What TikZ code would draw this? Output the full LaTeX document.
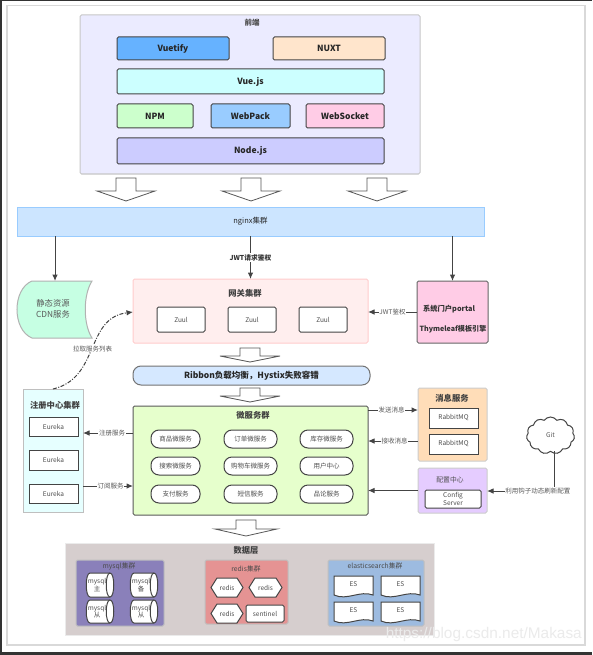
\documentclass[tikz,border=0pt]{standalone}
\usepackage{fontspec}
\setmainfont{Noto Sans CJK SC}
\newfontfamily\wmfont{Liberation Sans}
\usetikzlibrary{arrows.meta,shapes.symbols}
\definecolor{ink}{HTML}{444444}
\definecolor{cVuetify}{HTML}{66B2FF}
\definecolor{cNuxt}{HTML}{FFE5CC}
\definecolor{cVue}{HTML}{CCFFFF}
\definecolor{cNpm}{HTML}{CCFFCC}
\definecolor{cPack}{HTML}{99CCFF}
\definecolor{cSock}{HTML}{FFCCE6}
\definecolor{cNode}{HTML}{CCCCFF}
\definecolor{cNginx}{HTML}{CCE5FF}
\definecolor{cCdn}{HTML}{C6FFE3}
\definecolor{cGwLine}{HTML}{FFCCCC}
\definecolor{cGw}{HTML}{FFEEEE}
\definecolor{cRibbon}{HTML}{D5E8FF}
\definecolor{cMicro}{HTML}{E6FFCC}
\definecolor{cReg}{HTML}{E6FFFF}
\definecolor{cMq}{HTML}{FFDDB8}
\definecolor{cCfg}{HTML}{E5CCFF}
\definecolor{cData}{HTML}{D6CECE}
\definecolor{cMysql}{HTML}{8A80BA}
\definecolor{cRedis}{HTML}{E59393}
\definecolor{cEs}{HTML}{9DBBE0}
\tikzset{
  base/.style={draw=ink,line width=1pt,rounded corners=1.5pt,inner sep=0pt,align=center,text=black!85},
  panel/.style={base,rounded corners=1.5pt},
  stack/.style={base,font=\bfseries\fontsize{8.5}{10}\selectfont},
  small/.style={base,fill=white,font=\fontsize{6.5}{7.5}\selectfont,text=black!70},
  pill/.style={small,rounded corners=8pt},
  title/.style={font=\bfseries\fontsize{8.3}{10}\selectfont,text=black!75,inner sep=0pt},
  subtitle/.style={font=\fontsize{6.8}{8}\selectfont,text=black!70,inner sep=0pt},
  conn/.style={draw=ink,line width=1pt,-{Latex[length=6.5pt,width=5.5pt]}},
  plain/.style={draw=ink,line width=1pt},
  lab/.style={font=\fontsize{6.5}{7.5}\selectfont,text=black!65,fill=white,inner sep=.8pt},
  blockarrow/.style={draw=ink!90,line width=.8pt,fill=white},
  shapeline/.style={draw=ink,line width=1pt,fill=white},
}
\newcommand{\bx}[7]{%
  \pgfmathsetmacro\cxv{(#3+#5)/2}\pgfmathsetmacro\cyv{(#4+#6)/2}%
  \pgfmathsetmacro\wv{#5-#3}\pgfmathsetmacro\hv{#6-#4}%
  \node[#2,minimum width=\wv pt,minimum height=\hv pt,outer sep=0pt] (#1) at (\cxv,\cyv) {#7};}
\newcommand{\barrow}[6]{% cx, y1, yhead, y2, halfshaft, halfhead
  \pgfmathsetmacro\aa{#1-#5}\pgfmathsetmacro\bb{#1+#5}%
  \pgfmathsetmacro\cc{#1-#6}\pgfmathsetmacro\dd{#1+#6}%
  \draw[blockarrow] (\aa,#2) -- (\bb,#2) -- (\bb,#3) -- (\dd,#3) -- (#1,#4) -- (\cc,#3) -- (\aa,#3) -- cycle;}
\newcommand{\hcyl}[6]{% name x1 y1 x2 y2 text
  \pgfmathsetmacro\ym{(#3+#5)/2}%
  \pgfmathsetmacro\xa{#2+5}\pgfmathsetmacro\xb{#4-5}\pgfmathsetmacro\xt{(#2+#4)/2-3}%
  \pgfmathsetmacro\xp{#4-10}\pgfmathsetmacro\xq{#2+0}%
  \draw[shapeline] (\xa,#3) -- (\xb,#3) .. controls (#4,#3) and (#4,#5) .. (\xb,#5)
     -- (\xa,#5) .. controls (#2,#5) and (#2,#3) .. (\xa,#3) -- cycle;
  \draw[shapeline] (\xb,#3) .. controls (\xp,#3) and (\xp,#5) .. (\xb,#5);
  \node[font=\fontsize{6.5}{7.5}\selectfont,text=black!70,align=center,inner sep=0pt] (#1) at (\xt,\ym) {#6};}
\newcommand{\hex}[6]{%
  \pgfmathsetmacro\ym{(#3+#5)/2}\pgfmathsetmacro\xa{#2+6}\pgfmathsetmacro\xb{#4-6}\pgfmathsetmacro\xt{(#2+#4)/2}%
  \draw[shapeline] (#2,\ym) -- (\xa,#3) -- (\xb,#3) -- (#4,\ym) -- (\xb,#5) -- (\xa,#5) -- cycle;
  \node[font=\fontsize{6.5}{7.5}\selectfont,text=black!70,inner sep=0pt] (#1) at (\xt,\ym) {#6};}
\newcommand{\doc}[6]{%
  \pgfmathsetmacro\ym{(#3+#5)/2-2}\pgfmathsetmacro\xt{(#2+#4)/2}\pgfmathsetmacro\yl{#5-2}%
  \pgfmathsetmacro\ca{#2+13}\pgfmathsetmacro\cb{#4-13}\pgfmathsetmacro\yu{#5+4}\pgfmathsetmacro\yd{#5-7}%
  \draw[shapeline] (#2,#3) -- (#4,#3) -- (#4,\yl) .. controls (\cb,\yd) and (\ca,\yu) .. (#2,\yl) -- cycle;
  \node[font=\fontsize{6.5}{7.5}\selectfont,text=black!70,inner sep=0pt] (#1) at (\xt,\ym) {#6};}
\begin{document}
\begin{tikzpicture}[x=1pt,y=-1pt]
\useasboundingbox (0,0) rectangle (592,655);
\fill[white] (0,0) rectangle (592,655);
% window frame
\fill[black!80] (0,0) rectangle (592,1);
\fill[black!80] (0,0) rectangle (2,655);
\fill[black!80] (0,652) rectangle (592,655);
\draw[black!15,line width=1.4pt] (7,5.5) rectangle (585,645);

% front end
\bx{front}{panel,draw=black!22,fill=blue!8!white}{80}{15}{420}{174}{}
\node[subtitle,font=\bfseries\fontsize{7.5}{9}\selectfont] (fronttitle) at (252,23) {前端};
\bx{vuetify}{stack,fill=cVuetify}{117}{37}{229}{60}{Vuetify}
\bx{nuxt}{stack,fill=cNuxt}{273}{37}{385}{60}{NUXT}
\bx{vue}{stack,fill=cVue}{117}{69}{384}{94}{Vue.js}
\bx{npm}{stack,fill=cNpm}{117}{104}{193}{128}{NPM}
\bx{webpack}{stack,fill=cPack}{211}{104}{290}{128}{WebPack}
\bx{websocket}{stack,fill=cSock}{306}{104}{384}{128}{WebSocket}
\bx{node}{stack,fill=cNode}{117}{138}{384}{164}{Node.js}
\barrow{126}{178}{191}{201}{10}{29}
\barrow{251}{178}{191}{201}{10}{29}
\barrow{377}{178}{191}{201}{10}{29}

% nginx
\bx{nginx}{base,draw=cPack,fill=cNginx,rounded corners=0pt,font=\fontsize{7.5}{9}\selectfont}{17}{207}{484}{236}{nginx集群}

% cdn
\node[inner sep=0pt,minimum width=74pt,minimum height=57pt,outer sep=0pt] (cdn) at (55,309.5) {};
\draw[draw=black!30,line width=1pt,fill=cCdn] (32,281) -- (92,281) .. controls (83,295) and (83,324) .. (92,338) -- (32,338) .. controls (12,330) and (12,289) .. (32,281) -- cycle;
\node[font=\fontsize{8.3}{10.5}\selectfont,align=center,text=black!65,inner sep=0pt] (cdntext) at (53,309) {静态资源\\CDN服务};

% gateway
\bx{gw}{base,draw=cGwLine,fill=cGw}{133}{279}{368}{343}{}
\node[title] (gwtitle) at (245,293) {网关集群};
\bx{z1}{small}{157}{307}{205}{332}{Zuul}
\bx{z2}{small}{228}{307}{276}{332}{Zuul}
\bx{z3}{small}{299}{307}{347}{332}{Zuul}

% portal
\bx{portal}{base,draw=black!60,fill=cSock}{417}{281}{488}{343}{}
\node[font=\bfseries\fontsize{7.3}{9}\selectfont,text=black!80,inner sep=0pt] (p1) at (449,309) {系统门户portal};
\node[font=\bfseries\fontsize{7.1}{9}\selectfont,text=black!80,inner sep=0pt] (p2) at (453,329) {Thymeleaf模板引擎};

% connectors from nginx
\draw[conn] (nginx.south -| cdn.north) -- (cdn.north);
\draw[conn] (nginx.south -| gw.north) -- node[lab,font=\bfseries\fontsize{6.8}{8}\selectfont,text=black!80,pos=.5] (jwtlab) {JWT请求鉴权} (gw.north);
\draw[conn] (nginx.south -| portal.north) -- (portal.north);
\draw[conn] (portal.west) -- node[lab,pos=.5] (jwt2) {JWT鉴权} (portal.west -| gw.east);

% ribbon
\barrow{250}{348}{356}{362}{10}{30}
\bx{ribbon}{base,draw=black!55,fill=cRibbon,rounded corners=8pt,font=\bfseries\fontsize{8.5}{10}\selectfont}{133}{366}{370}{385}{Ribbon负载均衡，Hystix失败容错}
\barrow{250}{388}{396}{402}{10}{30}

% microservices
\bx{micro}{base,draw=black!65,fill=cMicro}{133}{406}{368}{515}{}
\node[title] (microtitle) at (253,415) {微服务群};
\bx{m1}{pill}{151}{430}{200}{448}{商品微服务}
\bx{m2}{pill}{224}{430}{277}{448}{订单微服务}
\bx{m3}{pill}{300}{430}{353}{448}{库存微服务}
\bx{m4}{pill}{151}{457}{200}{475}{搜索微服务}
\bx{m5}{pill}{224}{457}{277}{475}{购物车微服务}
\bx{m6}{pill}{300}{457}{353}{475}{用户中心}
\bx{m7}{pill}{151}{485}{200}{503}{支付服务}
\bx{m8}{pill}{224}{485}{277}{503}{短信服务}
\bx{m9}{pill}{300}{485}{353}{503}{品论服务}

% registry
\bx{reg}{base,draw=black!25,fill=cReg,rounded corners=0pt}{23}{389}{83}{512}{}
\node[title] (regtitle) at (55,405) {注册中心集群};
\bx{e1}{small,rounded corners=0pt}{29}{417}{78}{436}{Eureka}
\bx{e2}{small,rounded corners=0pt}{29}{450}{78}{470}{Eureka}
\bx{e3}{small,rounded corners=0pt}{29}{484}{78}{503}{Eureka}
\coordinate (yreg) at (0,433);
\coordinate (ysub) at (0,486);
\draw[conn] (micro.west |- yreg) -- node[lab,pos=.42] (l1) {注册服务} (reg.east |- yreg);
\draw[conn] (reg.east |- ysub) -- node[lab,pos=.55] (l2) {订阅服务} (micro.west |- ysub);
\coordinate (ygw) at (0,312);
\draw[draw=black!75,line width=1pt,dash pattern=on 4pt off 1.5pt on 1pt off 1.5pt,-{Latex[length=6.5pt,width=5.5pt]}]
  (reg.north) .. controls (100,378) and (85,318) .. (gw.west |- ygw)
  node[lab,pos=.5] (pull) {拉取服务列表};

% messaging
\bx{mq}{base,draw=black!20,fill=cMq}{418}{388}{487}{461}{}
\node[title,font=\bfseries\fontsize{8.3}{10}\selectfont] (mqtitle) at (452,398) {消息服务};
\bx{r1}{small,rounded corners=0pt}{429}{408}{478}{428}{RabbitMQ}
\bx{r2}{small,rounded corners=0pt}{429}{434}{478}{454}{RabbitMQ}
\coordinate (ysend) at (0,410);
\coordinate (yrecv) at (0,441);
\draw[conn] (micro.east |- ysend) -- node[lab,pos=.47] (l3) {发送消息} (mq.west |- ysend);
\draw[conn] (mq.west |- yrecv) -- node[lab,pos=.47] (l4) {接收消息} (micro.east |- yrecv);

% config
\bx{cfg}{base,draw=black!20,fill=cCfg}{418}{468}{487}{513}{}
\node[subtitle] (cfgtitle) at (450,480) {配置中心};
\bx{cfgs}{small,font=\fontsize{6.5}{8}\selectfont}{425}{490}{481}{508}{Config\\Server}
\draw[conn] (cfg.west) -- (cfg.west -| micro.east);

% git
\node[cloud,cloud puffs=11,cloud puff arc=110,aspect=1.3,draw=ink,line width=1pt,fill=white,minimum width=48pt,minimum height=37pt,inner sep=0pt,outer sep=0pt,font=\fontsize{6.5}{7.5}\selectfont,text=black!65] (git) at (550.5,435.5) {Git};
\coordinate (gc) at (554,491);
\draw[plain] (gc |- git.south) -- (gc);
\draw[conn] (gc) -- node[lab,pos=.24] (l5) {利用钩子动态刷新配置} (cfg.east |- gc);

% data layer
\barrow{246}{520}{529}{536}{10}{31}
\bx{data}{base,draw=black!8,fill=cData,rounded corners=0pt}{65}{543}{434}{635}{}
\node[title] (datatitle) at (246,550) {数据层};
\bx{mysql}{base,draw=black!25,fill=cMysql}{76}{560}{164}{626}{}
\node[subtitle] (mysqlt) at (119,566) {mysql集群};
\hcyl{c1}{85}{573}{115}{597}{mysql\\主}
\hcyl{c2}{129}{573}{159}{597}{mysql\\备}
\hcyl{c3}{85}{600}{115}{623}{mysql\\从}
\hcyl{c4}{129}{600}{159}{623}{mysql\\从}
\bx{redis}{base,draw=black!25,fill=cRedis}{205}{560}{288}{624}{}
\node[subtitle] (redist) at (246,569) {redis集群};
\hex{h1}{211}{578}{243}{597}{redis}
\hex{h2}{249}{578}{282}{597}{redis}
\hex{h3}{211}{604}{243}{623}{redis}
\bx{sent}{small}{246}{605}{284}{622}{sentinel}
\bx{es}{base,draw=black!25,fill=cEs}{328}{560}{424}{626}{}
\node[subtitle] (est) at (375,566) {elasticsearch集群};
\doc{d1}{334}{576}{373}{597}{ES}
\doc{d2}{381}{576}{420}{597}{ES}
\doc{d3}{334}{602}{373}{623}{ES}
\doc{d4}{381}{602}{420}{623}{ES}

% watermark
\node[font=\wmfont\fontsize{15.4}{18}\selectfont,text=black!8,inner sep=0pt,anchor=east] (wm) at (582,635) {https://blog.csdn.net/Makasa};
\end{tikzpicture}
\end{document}
